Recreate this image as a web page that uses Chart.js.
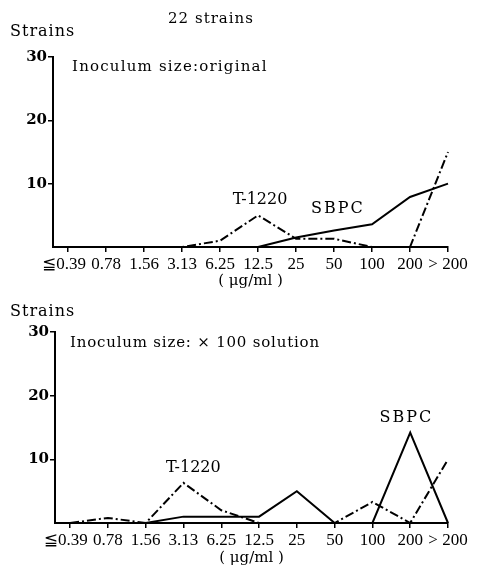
<!DOCTYPE html>
<html>
<head>
<meta charset="utf-8">
<script src="https://cdn.jsdelivr.net/npm/chart.js@4.4.0/dist/chart.umd.min.js"></script>
<style>
  body { margin: 0; background: #fff; }
  canvas { display: block; }
</style>
</head>
<body>
<canvas id="chartOriginal" width="479" height="290"></canvas>
<canvas id="chartSolucion" width="479" height="280"></canvas>
<script>
const concentraciones = ["≦0.39", "0.78", "1.56", "3.13", "6.25", "12.5", "25", "50", "100", "200", "> 200"];
const ticksY = [10, 20, 30];

// Inoculum size: original
const t1220Original = [0, 0, 0, 0, 1, 5, 1.3, 1.3, 0, 0, 15];
const sbpcOriginal = [0, 0, 0, 0, 0, 0, 1.5, 2.6, 3.6, 7.9, 10];

// Inoculum size: x100 solution
const t1220Solucion = [0, 0.8, 0, 6.3, 2, 0, 0, 0, 3.3, 0, 10];
const sbpcSolucion = [0, 0, 0, 1, 1, 1, 5, 0, 0, 14.2, 0];

const fuente = '"DejaVu Serif", "Liberation Serif", serif';
const fuenteTicks = '"Liberation Serif", "DejaVu Sans", serif';

const toPuntos = (arr) => arr.map((v, i) => ({ x: i, y: v }));

// dibuja los textos sueltos (titulos y etiquetas de las curvas)
const textosPlugin = (textos) => ({
  id: "textos",
  afterDraw(chart) {
    const ctx = chart.ctx;
    const { x, y } = chart.scales;
    ctx.save();
    ctx.fillStyle = "#000";
    ctx.textBaseline = "middle";
    textos.forEach((t) => {
      ctx.font = t.font;
      ctx.textAlign = t.align || "left";
      ctx.letterSpacing = t.spacing || "0px";
      const px = t.data ? x.getPixelForValue(t.px) : t.px;
      const py = t.data ? y.getPixelForValue(t.py) : t.py;
      ctx.fillText(t.text, px, py);
    });
    ctx.restore();
  },
});

const crearGrafico = (id, t1220, sbpc, cfg) => {
  const ctx = document.getElementById(id).getContext("2d");
  return new Chart(ctx, {
    type: "line",
    data: {
      datasets: [
        {
          label: "T-1220",
          data: toPuntos(t1220),
          borderColor: "#000",
          borderWidth: 2,
          borderDash: [9, 3, 2, 3],
          pointRadius: 0,
          tension: 0,
          clip: false,
        },
        {
          label: "SBPC",
          data: toPuntos(sbpc),
          borderColor: "#000",
          borderWidth: 2,
          pointRadius: 0,
          tension: 0,
          clip: false,
        },
      ],
    },
    options: {
      responsive: false,
      animation: false,
      layout: {
        padding: { top: cfg.top, right: 31, bottom: 0, left: 0 },
      },
      plugins: {
        legend: { display: false },
        tooltip: { enabled: false },
      },
      scales: {
        x: {
          type: "linear",
          min: -0.4,
          max: 10,
          afterBuildTicks: (scale) => {
            scale.ticks = concentraciones.map((c, i) => ({ value: i }));
          },
          afterFit: (scale) => {
            scale.height = cfg.xAlto;
          },
          ticks: {
            autoSkip: false,
            maxRotation: 0,
            padding: 2,
            color: "#000",
            font: { family: fuenteTicks, size: 17 },
            // la primera etiqueta va algo corrida a la izquierda
            callback: (v) => (v === 0 ? concentraciones[v] + "  " : concentraciones[v]),
          },
          grid: {
            drawOnChartArea: false,
            drawTicks: true,
            tickLength: 5,
            color: "#000",
            lineWidth: 1.5,
          },
          border: { display: true, color: "#000", width: 2 },
          title: {
            display: true,
            text: "( μg/ml )",
            color: "#000",
            font: { family: fuente, size: 15 },
            padding: { top: 0, bottom: cfg.tituloPad },
          },
        },
        y: {
          min: 0,
          max: 30,
          afterBuildTicks: (scale) => {
            scale.ticks = ticksY.map((v) => ({ value: v }));
          },
          afterFit: (scale) => {
            scale.width = cfg.yAncho;
          },
          ticks: {
            padding: 1,
            color: "#000",
            font: { family: fuente, size: 15, weight: "bold" },
          },
          grid: {
            drawOnChartArea: false,
            drawTicks: true,
            tickLength: 5,
            color: "#000",
            lineWidth: 1.5,
          },
          border: { display: true, color: "#000", width: 2 },
        },
      },
    },
    plugins: [textosPlugin(cfg.textos)],
  });
};

crearGrafico("chartOriginal", t1220Original, sbpcOriginal, {
  top: 57,
  xAlto: 43,
  yAncho: 53,
  tituloPad: 0,
  textos: [
    { text: "22 strains", px: 211, py: 19, align: "center", font: "15px " + fuente, spacing: "1px" },
    { text: "Strains", px: 10, py: 32, font: "16px " + fuente, spacing: "1px" },
    { text: "Inoculum size:original", px: 72, py: 67, font: "15px " + fuente, spacing: "1.2px" },
    { text: "T-1220", data: true, px: 5.05, py: 7.5, align: "center", font: "16px " + fuente, spacing: "0px" },
    { text: "SBPC", data: true, px: 7.1, py: 6, align: "center", font: "16px " + fuente, spacing: "2px" },
  ],
});

crearGrafico("chartSolucion", t1220Solucion, sbpcSolucion, {
  top: 42,
  xAlto: 47,
  yAncho: 55,
  tituloPad: 3,
  textos: [
    { text: "Strains", px: 10, py: 22, font: "16px " + fuente, spacing: "1px" },
    { text: "Inoculum size: × 100 solution", px: 70, py: 53, font: "15px " + fuente, spacing: "0.8px" },
    { text: "T-1220", data: true, px: 3.26, py: 8.7, align: "center", font: "16px " + fuente, spacing: "0px" },
    { text: "SBPC", data: true, px: 8.9, py: 16.5, align: "center", font: "16px " + fuente, spacing: "2px" },
  ],
});
</script>
</body>
</html>
